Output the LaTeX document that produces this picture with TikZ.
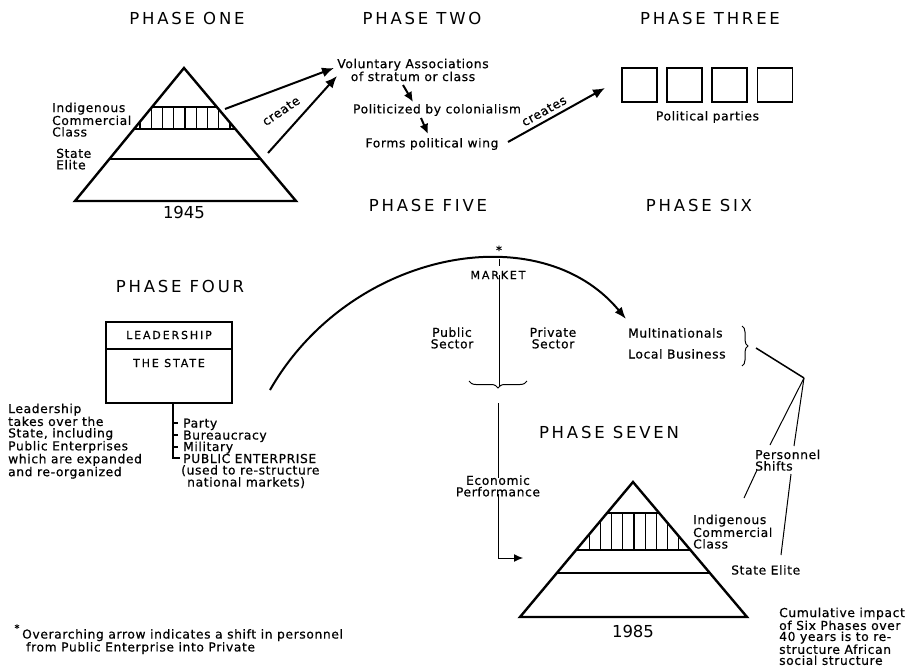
\documentclass[tikz,border=0pt]{standalone}
\usepackage{fontspec}
\setmainfont{DejaVu Sans}[LetterSpace=5, FakeBold=0.6]
\newfontfamily\headfont[LetterSpace=17]{DejaVu Sans}
\newfontfamily\yearfont{DejaVu Sans}
\newfontfamily\capsfont[LetterSpace=17, FakeBold=0.6]{DejaVu Sans}
\usetikzlibrary{arrows.meta,decorations.pathreplacing}
\begin{document}
\begin{tikzpicture}[x=1pt,y=-1pt,
  head/.style={font=\headfont\fontsize{16.5}{18}\selectfont, inner sep=0pt},
  year/.style={font=\yearfont\fontsize{16.5}{18}\selectfont, inner sep=0pt},
  caps/.style={font=\capsfont\fontsize{11}{12}\selectfont, inner sep=0pt},
  lbl/.style={font=\fontsize{12.3}{11.5}\selectfont, inner sep=0pt, align=left},
  clbl/.style={font=\fontsize{12.3}{11.5}\selectfont, inner sep=0pt, align=center},
  outline/.style={line width=2.4pt, line join=miter},
  inner/.style={line width=1.3pt},
  arr/.style={line width=2pt, -{Latex[length=12pt,width=10pt]}},
  sarr/.style={line width=2pt, -{Latex[length=10pt,width=9pt]}},
  thinl/.style={line width=1pt},
  pbox/.style={draw, line width=1.2pt, minimum width=35pt, minimum height=34pt, inner sep=0pt},
]
\useasboundingbox (0,0) rectangle (906,667);

% headings
\node[head] (h1) at (187,18) {PHASE ONE};
\node[head] (h2) at (422,18) {PHASE TWO};
\node[head] (h3) at (710,18) {PHASE THREE};
\node[head] (h5) at (428,205) {PHASE FIVE};
\node[head] (h6) at (699,205) {PHASE SIX};
\node[head] (h4) at (180,286) {PHASE FOUR};
\node[head] (h7) at (609,432) {PHASE SEVEN};

% ---------- pyramid 1945
\coordinate (p1t) at (184,68);
\coordinate (p1l) at (75,201);
\coordinate (p1r) at (296,201);
\begin{scope}
  \clip (p1t)--(p1l)--(p1r)--cycle;
  \draw[inner] (0,107)--(400,107) (0,129)--(400,129) (0,159)--(400,159);
  \foreach \k in {0,...,8} \draw[inner] ({140+11.25*\k},107)--({140+11.25*\k},129);
\end{scope}
\draw[outline] (p1t)--(p1l)--(p1r)--cycle;
\node[lbl, anchor=north west] (icc1) at (52,102.5) {Indigenous\\Commercial\\Class};
\node[lbl, anchor=north west] (se1) at (56,148.5) {State\\Elite};
\node[year] (y1) at (184,212) {1945};

% create arrows
\coordinate (c1s) at (225,109);
\coordinate (c1e) at (334,68);
\coordinate (c2s) at (268,153);
\coordinate (c2e) at (337,76);
\draw[arr] (c1s) -- (c1e);
\draw[arr] (c2s) -- (c2e);
\node[lbl, rotate=34] (cr) at (281,111) {create};

% ---------- phase two
\node[clbl] (va) at (413,70) {Voluntary Associations\\of stratum or class};
\node[clbl] (pc) at (437,110) {Politicized by colonialism};
\node[clbl] (fp) at (432,144) {Forms political wing};
\coordinate (a1s) at (403,85);
\coordinate (a1e) at (413,102);
\coordinate (a2s) at (421,118);
\coordinate (a2e) at (428,134);
\draw[sarr] (a1s) -- (a1e);
\draw[sarr] (a2s) -- (a2e);
\coordinate (crs) at (508,142);
\coordinate (cre) at (605,88);
\draw[arr] (crs) -- (cre);
\node[lbl, rotate=29] (crt) at (544,111) {creates};

% ---------- phase three
\foreach \i/\x in {1/639.5,2/684.5,3/729.5,4/775}
  \node[pbox] (pp\i) at (\x,85) {};
\node[clbl] (ppl) at (707.5,117) {Political parties};

% ---------- phase four
\node[draw, line width=1.2pt, minimum width=126pt, minimum height=27pt, inner sep=0pt] (lead) at (169,335.5) {};
\node[draw, line width=1.2pt, minimum width=126pt, minimum height=54pt, inner sep=0pt] (state) at (169,376) {};
\node[caps] (leadt) at (169,335) {LEADERSHIP};
\node[caps] (statet) at (169,363) {THE STATE};
\node[lbl, anchor=north west] (lt) at (8,403.5) {Leadership\\takes over the\\State, including\\Public Enterprises\\which are expanded\\and re-organized};
\node[lbl, anchor=base west] (party) at (183,427.5) {Party};
\node[lbl, anchor=base west] (bur) at (183,439.5) {Bureaucracy};
\node[lbl, anchor=base west] (mil) at (183,451) {Military};
\node[lbl, anchor=base west] (pe) at (183,463) {PUBLIC ENTERPRISE};
\node[lbl, anchor=base west] (used) at (181,474.5) {(used to re-structure};
\node[lbl, anchor=base west] (natm) at (187,486.5) {national markets)};
\coordinate (brtop) at (173,403);
\draw[line width=1.5pt] (brtop) |- ([xshift=-3pt]pe.west |- 0,458);
\foreach \y in {423,435,447} \draw[line width=1.2pt] (173,\y) -- (178,\y);

% ---------- phase five : market
\coordinate (arcS) at (270,390);
\coordinate (arcE) at (626,319);
\draw[line width=2pt, -{Latex[length=12pt,width=9pt]}] (arcS) .. controls (350,250) and (540,215) .. (arcE);
\node[font=\fontsize{12}{12}\selectfont, inner sep=0pt] (star) at (499,250) {*};
\draw[thinl] (499,259) -- (499,266);
\node[caps] (mkt) at (498,275) {MARKET};
\coordinate (mktbot) at (499,387);
\draw[thinl] ([yshift=4pt]mkt.south -| mktbot) -- (mktbot);
\draw[thinl, decorate, decoration={brace, amplitude=7pt}] (527,381) -- (469,381);
\node[clbl] (pub) at (452,338) {Public\\Sector};
\node[clbl] (priv) at (553,338) {Private\\Sector};
\node[clbl] (econ) at (498,486) {Economic\\Performance};
\coordinate (eTop) at (498,403);
\coordinate (eCorner) at (498,558);
\coordinate (eEnd) at (523,558);
\draw[thinl] (eTop) -- ([yshift=-3pt]econ.north -| eTop);
\draw[thinl, -{Latex[length=9pt,width=8pt]}] ([yshift=3pt]econ.south -| eTop) -- (eCorner) -- (eEnd);

% ---------- phase six
\node[lbl, anchor=base west] (mn) at (628,337.5) {Multinationals};
\node[lbl, anchor=base west] (lb) at (628,358.5) {Local Business};
\draw[thinl, decorate, decoration={brace, amplitude=6pt}] (742,326) -- (742,366);
\coordinate (bt) at (756,348);
\coordinate (apex) at (804,378);
\node[lbl, anchor=north west] (ps) at (755,449.5) {Personnel\\Shifts};
\draw[line width=1.5pt] (bt) -- (apex);
\draw[thinl] (apex) -- (770,445);
\draw[thinl] (757,470) -- (744,498);
\draw[thinl] (apex) -- (794,446);
\draw[thinl] (791,474) -- (781,555);

% ---------- pyramid 1985
\coordinate (p7t) at (633,482);
\coordinate (p7l) at (520,617);
\coordinate (p7r) at (747,617);
\begin{scope}
  \clip (p7t)--(p7l)--(p7r)--cycle;
  \draw[inner] (400,513)--(800,513) (400,550)--(800,550) (400,573)--(800,573);
  \foreach \k in {0,...,9} \draw[inner] ({578+11.2*\k},513)--({578+11.2*\k},550);
\end{scope}
\draw[outline] (p7t)--(p7l)--(p7r)--cycle;
\node[lbl, anchor=north west] (icc7) at (693,514.5) {Indigenous\\Commercial\\Class};
\node[lbl, anchor=base west] (se7) at (731,574.5) {State Elite};
\node[year] (y7) at (633,631) {1985};

% ---------- notes
\node[font=\fontsize{10}{10}\selectfont, inner sep=0pt] (fnstar) at (17,628) {*};
\node[lbl, anchor=north west] (fn) at (22,629) {Overarching arrow indicates a shift in personnel\\\hspace*{4pt}from Public Enterprise into Private};
\node[lbl, font=\fontsize{12.3}{11}\selectfont, anchor=north west] (cum) at (779,607.5) {Cumulative impact\\of Six Phases over\\40 years is to re-\\structure African\\social structure};
\end{tikzpicture}
\end{document}
